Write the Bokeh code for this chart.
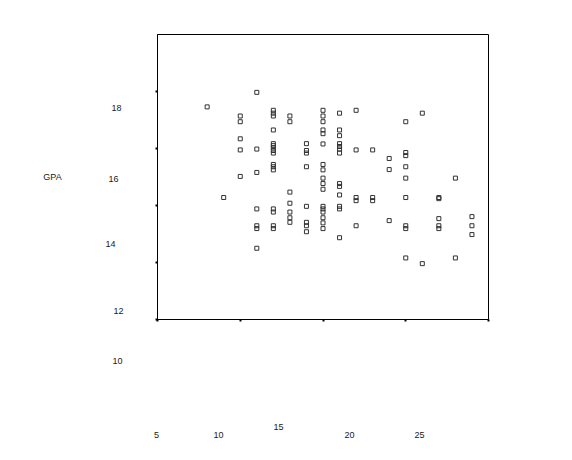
from bokeh.plotting import figure
from bokeh.models import FixedTicker, Label, Range1d
from bokeh.embed import file_html
from bokeh.resources import INLINE

# ---- data ----
score = ([8] + [9] + [10]*5 + [11]*7 + [12]*16 + [13]*7 + [14]*8 + [15]*17 +
         [16]*13 + [17]*5 + [18]*3 + [19]*3 + [20]*9 + [21]*2 + [22]*5 + [23]*2 + [24]*3)
gpa = [
    17.46,
    14.28,
    17.14, 16.94, 16.34, 15.95, 15.02,
    17.97, 15.98, 15.16, 13.88, 13.29, 13.19, 12.50,
    17.34, 17.24, 17.14, 16.65, 16.17, 16.10, 16.02, 15.93, 15.84, 15.44, 15.36, 15.25, 13.88, 13.77, 13.29, 13.19,
    17.14, 16.94, 14.47, 14.08, 13.77, 13.57, 13.41,
    16.17, 15.93, 15.84, 15.36, 13.97, 13.41, 13.29, 13.08,
    17.34, 17.14, 16.94, 16.65, 16.52, 16.16, 15.44, 15.25, 14.96, 14.77, 14.57, 13.97, 13.88, 13.77, 13.57, 13.39, 13.19,
    17.24, 16.65, 16.45, 16.17, 16.07, 15.98, 15.84, 14.77, 14.67, 14.37, 13.97, 13.88, 12.87,
    17.34, 15.95, 14.28, 14.17, 13.29,
    15.95, 14.28, 14.17,
    15.65, 15.26, 13.47,
    16.94, 15.86, 15.75, 15.36, 14.96, 14.28, 13.29, 13.19, 12.16,
    17.24, 11.96,
    14.28, 14.24, 13.54, 13.29, 13.19,
    14.96, 12.16,
    13.61, 13.29, 12.98,
]
x_ticks = [5, 10, 15, 20, 25]
y_ticks = [10, 12, 14, 16, 18]
x_tick_labels = ["5", "10", "15", "20", "25"]
y_tick_labels = ["18", "16", "14", "12", "10"]
y_title = "GPA"

# ---- figure ----
p = figure(frame_width=331, frame_height=285,
           min_border_left=157, min_border_right=76,
           min_border_top=34, min_border_bottom=132,
           x_range=Range1d(5, 25), y_range=Range1d(10, 20),
           output_backend="svg", toolbar_location=None)
p.background_fill_color = "white"
p.border_fill_color = "white"
p.outline_line_color = "black"
p.outline_line_width = 1
p.xgrid.visible = False
p.ygrid.visible = False

for ax, ticks in ((p.xaxis, x_ticks), (p.yaxis, y_ticks)):
    ax.ticker = FixedTicker(ticks=ticks)
    ax.axis_line_color = "black"
    ax.axis_line_width = 1
    ax.major_tick_in = 0
    ax.major_tick_out = 2
    ax.major_tick_line_width = 2
    ax.major_tick_line_color = "black"
    ax.minor_tick_line_color = None
    ax.major_label_standoff = 0
    ax.major_label_text_font_size = "0px"
    ax.major_label_text_alpha = 0

p.scatter(score, gpa, marker="square", size=4, fill_color=None,
          line_color="#333333", line_width=1)

font = "Liberation Sans"
fs = "9px"
col = "#1a1a1a"

# The reference's tick labels are displaced from their ticks; each is placed
# in its own side panel at a pixel offset.
y_label_offsets = {"18": (-29, 212), "16": (-22, 141), "14": (-15, 76),
                   "12": (3, 9), "10": (12, -41)}
x_label_offsets = {"5": (-1, -107), "10": (61, -101), "15": (121, -87),
                   "20": (192, -89), "25": (262, -83)}

def lab(t, dx, dy):
    return Label(x=dx, y=dy, x_units="screen", y_units="screen", text=t,
                 text_font=font, text_font_size=fs, text_color=col,
                 text_align="center", text_baseline="middle")

for t in y_tick_labels:
    p.add_layout(lab(t, *y_label_offsets[t]), "left")
p.add_layout(lab(y_title, -35, 143), "left")
for t in x_tick_labels:
    p.add_layout(lab(t, *x_label_offsets[t]), "below")

open("out.html", "w").write(file_html(p, INLINE))
